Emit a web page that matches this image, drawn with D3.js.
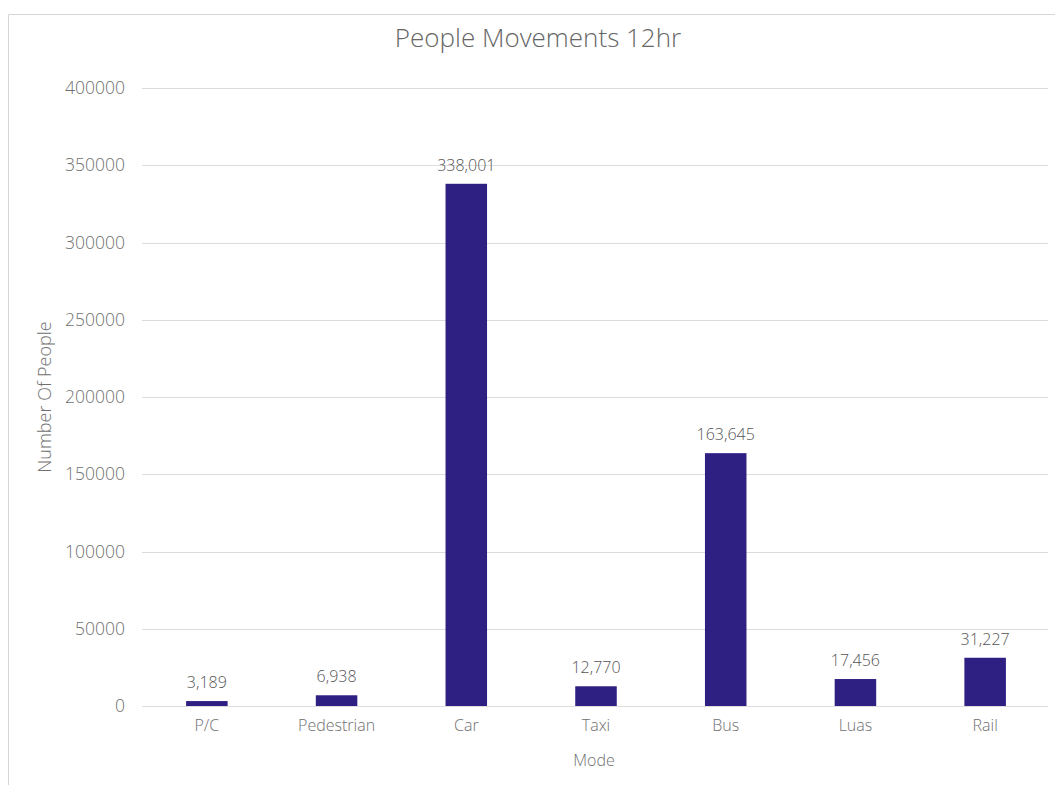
<!DOCTYPE html>
<html><head><meta charset="utf-8">
<script src="https://cdn.jsdelivr.net/npm/d3@7"></script>
<style>
html,body{margin:0;padding:0;background:#fff;}
text{font-family:"Open Sans",sans-serif;font-weight:300;}
</style></head>
<body><svg id="c" width="1055" height="785"></svg>
<script>
const categories = ["P/C","Pedestrian","Car","Taxi","Bus","Luas","Rail"];
const values = [3189, 6938, 338001, 12770, 163645, 17456, 31227];
const yTicks = [0,50000,100000,150000,200000,250000,300000,350000,400000];
const title = "People Movements 12hr";
const xTitle = "Mode";
const yTitle = "Number Of People";

const svg = d3.select("#c");
// frame
svg.append("line").attr("x1",8.5).attr("x2",1055).attr("y1",14.5).attr("y2",14.5).attr("stroke","#d6d6d6");
svg.append("line").attr("x1",8.5).attr("x2",8.5).attr("y1",14.5).attr("y2",785).attr("stroke","#d6d6d6");

const x = d3.scaleBand().domain(categories).range([142,1050]).paddingInner(0.68).paddingOuter(0.34);
const y = d3.scaleLinear().domain([0,400000]).range([706,88]);

const grid = svg.append("g");
grid.selectAll("line").data(yTicks).join("line")
  .attr("x1",142).attr("x2",1048)
  .attr("y1",d=>Math.round(y(d))+0.5).attr("y2",d=>Math.round(y(d))+0.5)
  .attr("stroke","#dcdcdc").attr("stroke-width",1.2);

const yAxis = svg.append("g").attr("transform","translate(125,0)")
  .call(d3.axisLeft(y).tickValues(yTicks).tickSize(0).tickPadding(0).tickFormat(d3.format("d")));
yAxis.select(".domain").remove();
yAxis.selectAll("text").attr("fill","#707070").style("font-size","17.5px");

const xAxis = svg.append("g").attr("transform","translate(0,720)")
  .call(d3.axisBottom(x).tickSize(0).tickPadding(0));
xAxis.select(".domain").remove();
xAxis.selectAll("text").attr("fill","#707070").style("font-size","16px");

svg.append("g").selectAll("rect").data(values).join("rect")
  .attr("x",(d,i)=>x(categories[i])).attr("width",x.bandwidth())
  .attr("y",d=>y(d)).attr("height",d=>y(0)-y(d))
  .attr("fill","#2e1f83");

svg.append("g").selectAll("text").data(values).join("text")
  .attr("x",(d,i)=>x(categories[i])+x.bandwidth()/2)
  .attr("y",d=>y(d)-13)
  .attr("text-anchor","middle").attr("fill","#555").style("font-size","16px")
  .text(d=>d3.format(",")(d));

svg.append("text").attr("x",538).attr("y",47).attr("text-anchor","middle")
  .attr("fill","#666").style("font-size","26px").text(title);
svg.append("text").attr("x",594).attr("y",766).attr("text-anchor","middle")
  .attr("fill","#707070").style("font-size","16px").text(xTitle);
svg.append("text").attr("transform","translate(51,397) rotate(-90)").attr("text-anchor","middle")
  .attr("fill","#707070").style("font-size","18px").text(yTitle);
</script></body></html>
